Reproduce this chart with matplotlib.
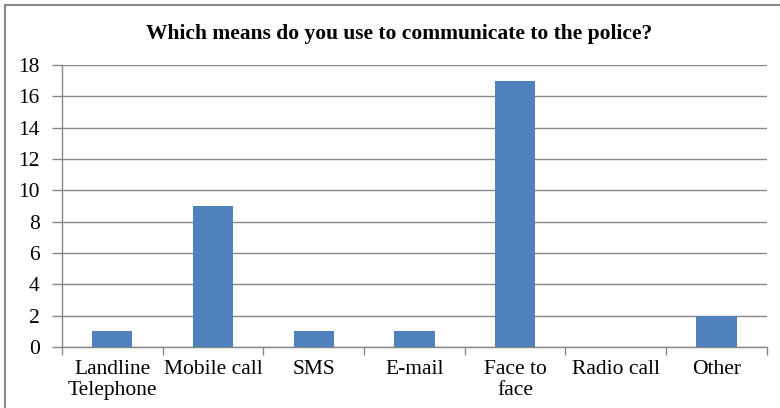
import matplotlib
matplotlib.use('Agg')
import matplotlib.pyplot as plt
from matplotlib.patches import Rectangle

categories = ["Landline\nTelephone", "Mobile call", "SMS", "E-mail", "Face to\nface", "Radio call", "Other"]
counts = [1, 9, 1, 1, 17, 0, 2]
y_ticks = [0, 2, 4, 6, 8, 10, 12, 14, 16, 18]

plt.rcParams['font.family'] = ['Liberation Serif', 'DejaVu Serif']

fig = plt.figure(figsize=(7.8, 4.08), dpi=100)
ax = fig.add_axes([0.0795, 0.1495, 0.9035, 0.6912])

x = list(range(len(categories)))
ax.bar(x, counts, width=0.4, color='#4F81BD', zorder=3)

ax.set_xlim(-0.5, len(categories) - 0.5)
ax.set_ylim(0, 18)
ax.set_yticks(y_ticks)
ax.set_yticklabels([str(v) for v in y_ticks], fontsize=15.5)
ax.set_xticks(x)
ax.set_xticklabels(categories, fontsize=15.5, linespacing=1.2)
ax.tick_params(axis='x', length=0, pad=9)
ax.set_xticks([i - 0.5 for i in range(len(categories) + 1)], minor=True)
ax.tick_params(axis='x', which='minor', length=6, color='#878787', width=1)
ax.tick_params(axis='y', length=7, color='#878787', width=1, pad=9)

ax.grid(axis='y', color='#878787', linewidth=1, zorder=0)
for side in ['top', 'right']:
    ax.spines[side].set_visible(False)
for side in ['left', 'bottom']:
    ax.spines[side].set_color('#878787')
    ax.spines[side].set_linewidth(1)

fig.text(0.512, 0.917, "Which means do you use to communicate to the police?",
         ha='center', va='center', fontsize=15.5, fontweight='bold')

fig.patches.append(Rectangle((0.007, -0.01), 1.0, 0.997, transform=fig.transFigure,
                             fill=False, edgecolor='#888888', linewidth=1.5))

fig.savefig('out.png', dpi=100)
